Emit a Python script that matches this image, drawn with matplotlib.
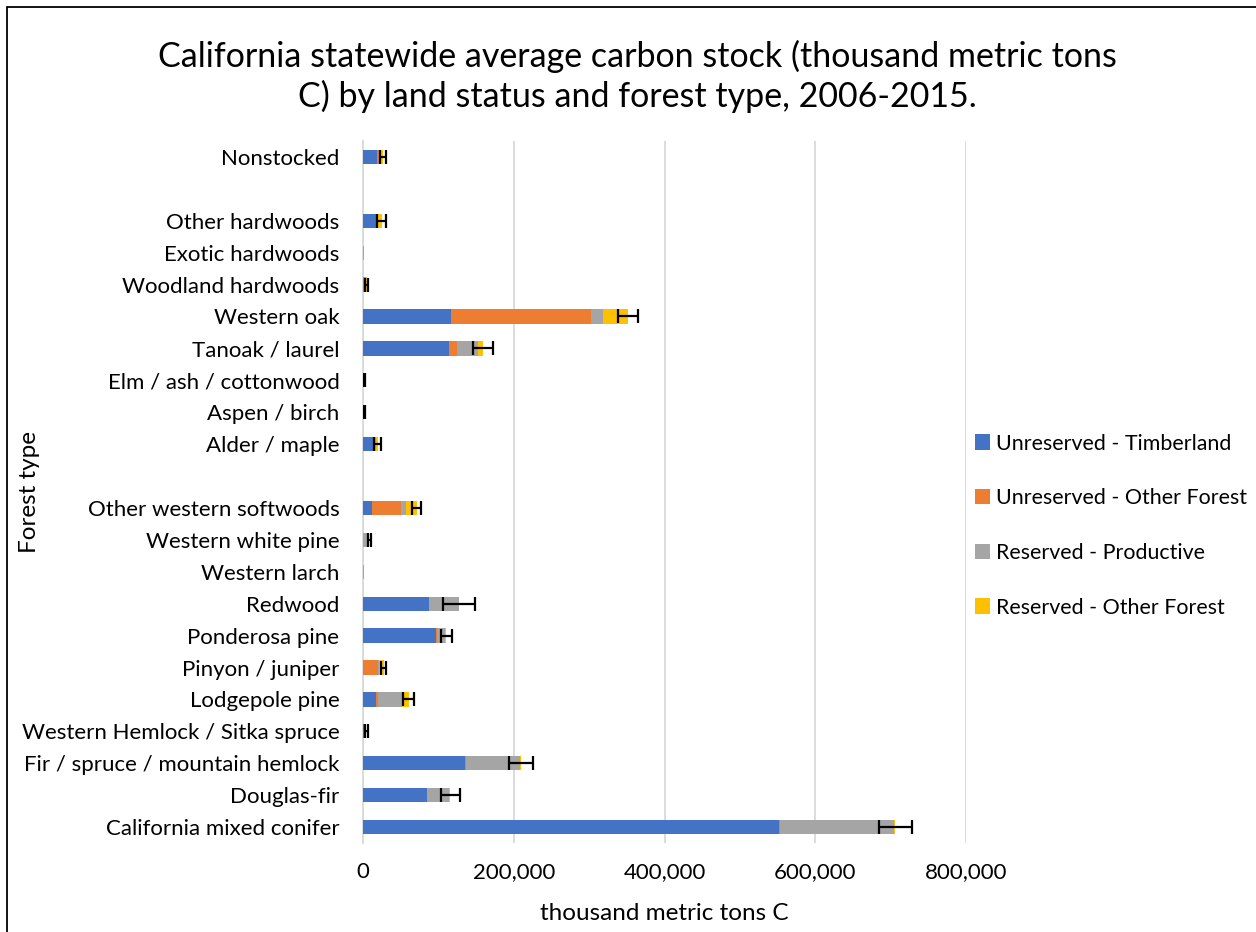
import matplotlib
matplotlib.use("Agg")
import matplotlib.pyplot as plt
from matplotlib.patches import Patch, Rectangle
from matplotlib.ticker import FuncFormatter, MultipleLocator
import numpy as np

plt.rcParams['font.family'] = ['Lato', 'DejaVu Sans']

# Categories bottom to top ("" = blank spacer row)
categories = [
    "California mixed conifer", "Douglas-fir", "Fir / spruce / mountain hemlock",
    "Western Hemlock / Sitka spruce", "Lodgepole pine", "Pinyon / juniper",
    "Ponderosa pine", "Redwood", "Western larch", "Western white pine",
    "Other western softwoods", "",
    "Alder / maple", "Aspen / birch", "Elm / ash / cottonwood", "Tanoak / laurel",
    "Western oak", "Woodland hardwoods", "Exotic hardwoods", "Other hardwoods",
    "", "Nonstocked",
]

unres_timber = [552000, 85000, 135600, 3000, 16800, 0, 96600, 87700, 300, 500,
                11500, 0, 13300, 1200, 800, 114700, 116500, 300, 200, 18200, 0, 18200]
unres_other = [1000, 500, 1000, 0, 3600, 19500, 2200, 0, 0, 0,
               38500, 0, 1300, 100, 300, 10200, 186500, 3500, 100, 800, 0, 3100]
res_prod = [151000, 29000, 71400, 1500, 31000, 1500, 10200, 39900, 600, 5000,
            6700, 0, 2500, 300, 300, 27900, 16000, 500, 700, 1500, 0, 1300]
res_other = [2000, 1500, 2000, 0, 9600, 6500, 1700, 0, 0, 3000,
             14600, 0, 2400, 200, 100, 6200, 32000, 500, 0, 4500, 0, 4000]
errors = [22000, 12500, 16000, 2500, 7300, 3500, 7800, 21000, 0, 2500,
          6200, 0, 4600, 1500, 1200, 13700, 13300, 1500, 0, 6000, 0, 4400]

series_names = ["Unreserved - Timberland", "Unreserved - Other Forest",
                "Reserved - Productive", "Reserved - Other Forest"]
colors = ["#4472C4", "#ED7D31", "#A5A5A5", "#FFC000"]

fig = plt.figure(figsize=(12.56, 9.32), dpi=100)
ax = fig.add_axes([363/1256, 1-843/932, (966-363)/1256, (843-141)/932])

y = np.arange(len(categories))
left = np.zeros(len(categories))
for vals, c in zip([unres_timber, unres_other, res_prod, res_other], colors):
    v = np.array(vals, dtype=float)
    ax.barh(y, v, left=left, height=0.45, color=c, edgecolor='none', zorder=3)
    left = left + v

err = np.array(errors, dtype=float)
mask = err > 0
ax.errorbar(left[mask], y[mask], xerr=err[mask], fmt='none', ecolor='black',
            elinewidth=1.6, capsize=4.7, capthick=1.6, zorder=4)

ax.set_xlim(0, 800000)
ax.set_ylim(-0.5, len(categories) - 0.5)
ax.xaxis.set_major_locator(MultipleLocator(200000))
ax.xaxis.set_major_formatter(FuncFormatter(lambda v, p: f"{int(v):,}"))
ax.set_yticks(y)
ax.set_yticklabels(categories)
ax.tick_params(axis='both', length=0, labelsize=16, colors='#000000')
ax.tick_params(axis='y', pad=17)
ax.tick_params(axis='x', pad=14)
ax.grid(axis='x', color='#D9D9D9', linewidth=1.3, zorder=0)
for s in ['top', 'right', 'bottom']:
    ax.spines[s].set_visible(False)
ax.spines['left'].set_color('#D9D9D9')
ax.spines['left'].set_linewidth(1.3)

fig.text(664/1256, 1-913/932, "thousand metric tons C", fontsize=17.5,
         ha='center', va='center')
fig.text(30/1256, 1-492/932, "Forest type", rotation=90, fontsize=17.5,
         ha='center', va='center')

fig.text(637/1256, 1-76/932,
         "California statewide average carbon stock (thousand metric tons\nC) by land status and forest type, 2006-2015.",
         ha='center', va='center', fontsize=24.5, linespacing=1.25)

handles = [Patch(facecolor=c, edgecolor='none') for c in colors]
fig.legend(handles, series_names, loc='upper left',
           bbox_to_anchor=(966/1256, 1-425/932), frameon=False,
           fontsize=15.4, handlelength=0.72, handleheight=0.72,
           handletextpad=0.3, labelspacing=1.62, borderaxespad=0)

fig.patches.append(Rectangle((7/1256, -0.1), 1.2, 1 - 7/932 + 0.1,
                             transform=fig.transFigure, fill=False,
                             edgecolor='black', linewidth=1.3))

fig.savefig("out.png", dpi=100)
